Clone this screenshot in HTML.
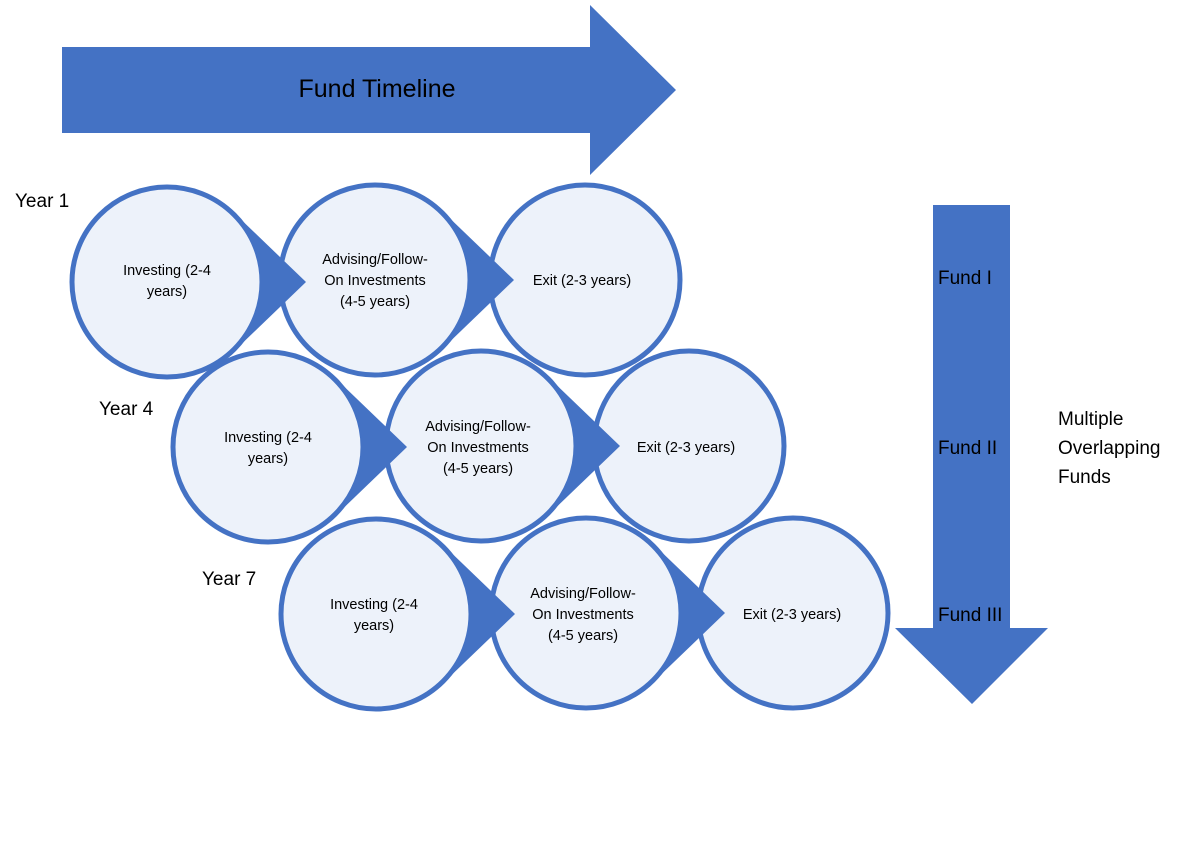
<!DOCTYPE html>
<html><head><meta charset="utf-8"><style>
html,body{margin:0;padding:0;background:#fff;}
svg{display:block;font-family:"Liberation Sans",sans-serif;}
</style></head><body>
<svg width="1200" height="850" viewBox="0 0 1200 850" xmlns="http://www.w3.org/2000/svg">
<rect width="1200" height="850" fill="#fff"/>
<polygon points="62,47 590,47 590,5 676,90 590,175 590,133 62,133" fill="#4472C4"/>
<text x="377" y="97" font-size="25" text-anchor="middle" fill="#000">Fund Timeline</text>
<polygon points="933,205 1010,205 1010,628 1048,628 972,704 895,628 933,628" fill="#4472C4"/>
<g font-size="19" fill="#000">
<text x="938" y="284">Fund I</text>
<text x="938" y="454">Fund II</text>
<text x="938" y="621">Fund III</text>
<text x="1058" y="425">Multiple</text>
<text x="1058" y="454">Overlapping</text>
<text x="1058" y="483">Funds</text>
<text x="15" y="207">Year 1</text>
<text x="99" y="415">Year 4</text>
<text x="202" y="585">Year 7</text>
</g>
<defs>
<g id="pc">
<polygon points="62,-74 139,0 62,74 0,0" fill="#4472C4"/>
<circle r="95" fill="#EDF2FA" stroke="#4472C4" stroke-width="5"/>
</g>
<g id="c"><circle r="95" fill="#EDF2FA" stroke="#4472C4" stroke-width="5"/></g>
</defs>
<g font-size="14.5" fill="#000" text-anchor="middle">
<!-- row 1 -->
<use href="#c" x="585" y="280"/>
<use href="#pc" x="375" y="280"/>
<use href="#pc" x="167" y="282"/>
<text x="167" y="275">Investing (2-4</text><text x="167" y="296">years)</text>
<text x="375" y="264">Advising/Follow-</text><text x="375" y="285">On Investments</text><text x="375" y="306">(4-5 years)</text>
<text x="582" y="285">Exit (2-3 years)</text>
<!-- row 2 -->
<use href="#c" x="689" y="446"/>
<use href="#pc" x="481" y="446"/>
<use href="#pc" x="268" y="447"/>
<text x="268" y="442">Investing (2-4</text><text x="268" y="463">years)</text>
<text x="478" y="431">Advising/Follow-</text><text x="478" y="452">On Investments</text><text x="478" y="473">(4-5 years)</text>
<text x="686" y="452">Exit (2-3 years)</text>
<!-- row 3 -->
<use href="#c" x="793" y="613"/>
<use href="#pc" x="586" y="613"/>
<use href="#pc" x="376" y="614"/>
<text x="374" y="609">Investing (2-4</text><text x="374" y="630">years)</text>
<text x="583" y="598">Advising/Follow-</text><text x="583" y="619">On Investments</text><text x="583" y="640">(4-5 years)</text>
<text x="792" y="619">Exit (2-3 years)</text>
</g>
</svg>
</body></html>
